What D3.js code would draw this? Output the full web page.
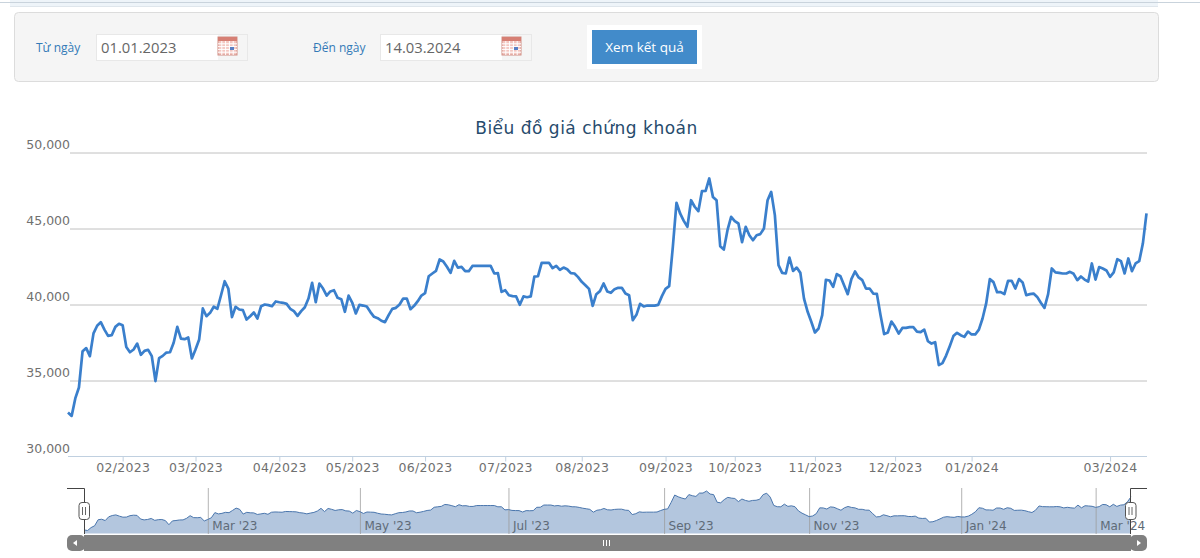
<!DOCTYPE html>
<html>
<head>
<meta charset="utf-8">
<title>Biểu đồ giá chứng khoán</title>
<script src="https://cdn.jsdelivr.net/npm/d3@7"></script>
<style>
html, body { margin: 0; padding: 0; background: #fff; overflow: hidden; }
svg { display: block; font-family: "DejaVu Sans", sans-serif; }
</style>
</head>
<body>
<svg id="chart" width="1200" height="558"></svg>
<script>
// gia dong cua, doc tu hinh
const prices = [
  32900,32670,33820,34540,36930,37130,36600,38100,38600,38840,38350,37940,37980,38530,38730,38640,
  37200,36860,37040,37430,36690,36950,37020,36600,34960,36470,36620,36840,36860,37480,38530,37760,
  37720,37830,36450,37040,37700,39740,39230,39450,39850,39720,40610,41530,41050,39170,39850,39670,
  39630,39010,39230,39470,39080,39890,40000,39960,39890,40200,40150,40110,40040,39720,39560,39250,
  39560,39820,40390,41430,40150,41380,41050,40590,40860,40940,40440,40350,39520,40580,40130,39410,
  39980,39930,39870,39500,39190,39100,38930,38840,39300,39710,39780,40000,40390,40390,39690,39910,
  40220,40590,40750,41860,42040,42210,42960,42830,42480,42080,42870,42430,42480,42190,42190,42540,
  42540,42540,42540,42540,42540,42040,42060,40830,40940,40610,40550,40530,39980,40530,40480,40530,
  41840,41860,42740,42740,42740,42390,42540,42280,42430,42320,42060,42040,41800,41490,41270,41030,
  39910,40680,40880,41380,40860,40770,41010,41100,41100,40720,40610,38970,39320,40040,39870,39930,
  39930,39930,39980,40550,41030,41210,43790,46690,45990,45500,45110,46860,46430,46140,47460,47480,
  48290,47080,46860,43840,43620,44890,45770,45480,45330,44100,45110,44560,44230,44560,44630,45000,
  46860,47410,45880,42590,42080,42040,43090,42210,42430,42080,40390,39520,38860,38160,38420,39300,
  41620,41580,41160,42000,41860,41270,40680,41670,42170,41780,41600,41050,41050,40720,40700,39300,
  38050,38160,38880,38530,38090,38460,38460,38510,38510,38220,38180,38350,37590,37430,37520,36010,
  36140,36640,37260,37920,38140,37980,37870,38220,38030,38030,38350,39080,40070,41670,41470,40810,
  40810,40680,41560,41560,41050,41670,41450,40610,40680,40720,40500,40110,39780,40680,42370,42110,
  42080,42040,42040,42150,42020,41600,41840,41640,41510,42700,41640,42460,42370,42240,41820,42110,
  42980,42850,42040,43030,42190,42700,42850,44010,45990
];

const yTicks = [30000,35000,40000,45000,50000];
const monthTickIndex = [15,35,58,78,98,120,141,164,183,205,227,248,286];
const monthTickLabels = ["02/2023","03/2023","04/2023","05/2023","06/2023","07/2023","08/2023","09/2023","10/2023","11/2023","12/2023","01/2024","03/2024"];
const navTickIndex = [35,78,120,164,205,248,286];
const navTickLabels = ["Mar '23","May '23","Jul '23","Sep '23","Nov '23","Jan '24","Mar '24"];

const chartTitle = "Biểu đồ giá chứng khoán";
const fromLabel = "Từ ngày", fromDate = "01.01.2023";
const toLabel = "Đến ngày", toDate = "14.03.2024";
const buttonLabel = "Xem kết quả";

var svg = d3.select("#chart");

//--- thanh tren cung + form chon ngay
svg.append("rect").attr("x",10).attr("y",0).attr("width",1148).attr("height",6).attr("fill","#eef4f9");
svg.append("line").attr("x1",0).attr("x2",1200).attr("y1",2.5).attr("y2",2.5).attr("stroke","#c9d3dc");
svg.append("line").attr("x1",10).attr("x2",1158).attr("y1",6.5).attr("y2",6.5).attr("stroke","#dfe6ec");
svg.append("rect").attr("x",14.5).attr("y",12.5).attr("width",1144).attr("height",69).attr("rx",4)
  .attr("fill","#f5f5f5").attr("stroke","#dcdcdc");

function dateField(labelX, label, boxX, value) {
  svg.append("text").attr("x",labelX).attr("y",52).attr("font-size",12)
    .attr("font-family","'Open Sans', sans-serif").attr("fill","#337ab7").text(label);
  svg.append("rect").attr("x",boxX+.5).attr("y",34.5).attr("width",151).attr("height",26)
    .attr("fill","#fff").attr("stroke","#e8e8e8");
  svg.append("rect").attr("x",boxX+122).attr("y",35).attr("width",29).attr("height",25).attr("fill","#f5f5f5");
  svg.append("text").attr("x",boxX+5).attr("y",53).attr("font-size",14.8)
    .attr("font-family","'Open Sans', sans-serif").attr("fill","#666").text(value);
  // icon lich
  var ix = boxX+122, iy = 37;
  svg.append("rect").attr("x",ix).attr("y",iy).attr("width",19).attr("height",18).attr("fill","#f3c6c0").attr("stroke","#d08f86");
  svg.append("rect").attr("x",ix).attr("y",iy).attr("width",19).attr("height",4).attr("fill","#d67f74");
  for (var i = 1; i < 5; i++) {
    svg.append("line").attr("x1",ix+i*3.8).attr("x2",ix+i*3.8).attr("y1",iy+4).attr("y2",iy+18).attr("stroke","#fff");
    svg.append("line").attr("x1",ix).attr("x2",ix+19).attr("y1",iy+4+i*2.8).attr("y2",iy+4+i*2.8).attr("stroke","#fff");
  }
  svg.append("rect").attr("x",ix+12).attr("y",iy+10).attr("width",4).attr("height",3).attr("fill","#5a7fc4");
}
dateField(36, fromLabel, 96, fromDate);
dateField(313, toLabel, 380, toDate);

svg.append("rect").attr("x",587).attr("y",25).attr("width",115).attr("height",44).attr("fill","#fff");
svg.append("rect").attr("x",592).attr("y",30).attr("width",105).attr("height",34).attr("fill","#428bca");
svg.append("text").attr("x",644.5).attr("y",52).attr("text-anchor","middle").attr("font-size",13.5)
  .attr("font-family","'Open Sans', sans-serif").attr("fill","#fff").text(buttonLabel);

//--- bieu do chinh
svg.append("text").attr("x",586.5).attr("y",134).attr("text-anchor","middle").attr("font-size",17)
  .attr("fill","#274b6d").attr("letter-spacing",.5).text(chartTitle);

var x = d3.scaleLinear().domain([0,prices.length-1]).range([68,1146.5]);
var y = d3.scaleLinear().domain([30000,50000]).range([456.5,152.5]);

var yAxis = d3.axisLeft(y).tickValues(yTicks.slice(1)).tickSize(-1077).tickFormat(d3.format(","));
var gy = svg.append("g").attr("transform","translate(70,0)").call(yAxis);
gy.select(".domain").remove();
gy.selectAll("line").attr("stroke","#c0c0c0");
gy.selectAll("text").attr("x",0).attr("dy","-4px").attr("font-size",12.5).attr("fill","#707070")
  .attr("font-family","'DejaVu Sans', sans-serif");

// nhan 30,000 nam tren truc x
svg.append("text").attr("x",70).attr("y",453).attr("text-anchor","end").attr("font-size",12.5).attr("fill","#707070")
  .text(d3.format(",")(yTicks[0]));

var xAxis = d3.axisBottom(x).tickValues(monthTickIndex).tickSize(5).tickPadding(2)
  .tickFormat(function(d,i){ return monthTickLabels[i]; });
var gx = svg.append("g").attr("transform","translate(0,456.5)").call(xAxis);
gx.select(".domain").attr("stroke","#c0d0e0").attr("d","M68,0H1147");
gx.selectAll("line").attr("stroke","#c0d0e0");
gx.selectAll("text").attr("font-size",12.5).attr("fill","#707070").attr("letter-spacing",.3)
  .attr("font-family","'DejaVu Sans', sans-serif");

var line = d3.line().x(function(d,i){ return x(i); }).y(function(d){ return y(d); });
svg.append("path").datum(prices).attr("d",line).attr("fill","none").attr("stroke","#3a7fcc")
  .attr("stroke-width",2.7).attr("stroke-linejoin","round");

//--- navigator
var xNav = d3.scaleLinear().domain([0,prices.length-1]).range([84,1131]);
var yNav = d3.scaleLinear().domain([d3.min(prices),d3.max(prices)]).range([530.5,491]);

var area = d3.area().x(function(d,i){ return xNav(i); }).y0(533.5).y1(function(d){ return yNav(d); });
var navLine = d3.line().x(function(d,i){ return xNav(i); }).y(function(d){ return yNav(d); });
svg.append("path").datum(prices).attr("d",area).attr("fill","#b3c6de");

var navAxis = d3.axisBottom(xNav).tickValues(navTickIndex).tickSize(46)
  .tickFormat(function(d,i){ return navTickLabels[i]; });
var gn = svg.append("g").attr("transform","translate(0,488)").call(navAxis);
gn.select(".domain").remove();
gn.selectAll("line").attr("stroke","#9a9a9a").attr("stroke-opacity",.75);
gn.selectAll("text").attr("y",42).attr("dy",0).attr("x",4).attr("text-anchor","start").attr("font-size",12)
  .attr("fill","#5f6b78").attr("font-family","'DejaVu Sans', sans-serif");

svg.append("path").datum(prices).attr("d",navLine).attr("fill","none").attr("stroke","#4a76ad").attr("stroke-width",1);

// vien + tay nam hai dau
svg.append("path").attr("d","M67,488.5H84.5V534").attr("fill","none").attr("stroke","#444");
svg.append("path").attr("d","M1147,488.5H1130.5V534").attr("fill","none").attr("stroke","#444");
[84,1130.5].forEach(function(hx){
  svg.append("rect").attr("x",hx-5).attr("y",502.5).attr("width",10.5).attr("height",17).attr("rx",3)
    .attr("fill","#fff").attr("stroke","#555");
  svg.append("path").attr("d","M"+(hx-1.5)+",507V515M"+(hx+1.5)+",507V515").attr("stroke","#666");
});

//--- scrollbar
svg.append("rect").attr("x",84).attr("y",535).attr("width",1047).attr("height",16).attr("fill","#808080");
svg.append("rect").attr("x",67).attr("y",535).attr("width",18).attr("height",16).attr("rx",5).attr("fill","#808080");
svg.append("rect").attr("x",1130).attr("y",535).attr("width",17).attr("height",16).attr("rx",5).attr("fill","#808080");
svg.append("path").attr("d","M73,543L77,540V546Z").attr("fill","#fff");
svg.append("path").attr("d","M1141,543L1137,540V546Z").attr("fill","#fff");
svg.append("path").attr("d","M603.5,540V546M606.5,540V546M609.5,540V546").attr("stroke","#fff");
</script>
</body>
</html>
